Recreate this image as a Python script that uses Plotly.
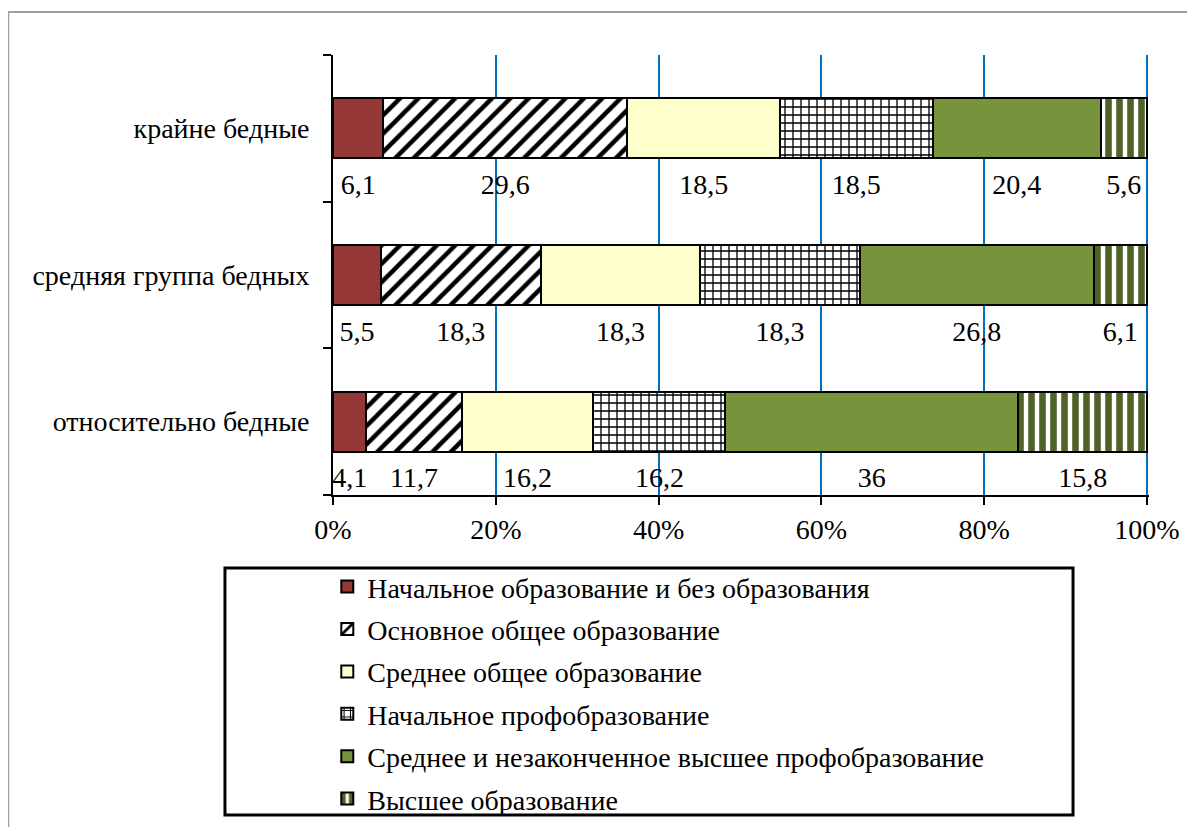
import plotly.graph_objects as go

categories = ["относительно бедные", "средняя группа бедных", "крайне бедные"]
series_names = [
    "Начальное образование и без образования",
    "Основное общее образование",
    "Среднее общее образование",
    "Начальное профобразование",
    "Среднее и незаконченное высшее профобразование",
    "Высшее образование",
]
# values per series, ordered as categories (bottom -> top)
s_primary = [4.1, 5.5, 6.1]
s_basic = [11.7, 18.3, 29.6]
s_secondary = [16.2, 18.3, 18.5]
s_voc_primary = [16.2, 18.3, 18.5]
s_voc_secondary = [36, 26.8, 20.4]
s_higher = [15.8, 6.1, 5.6]
series_values = [s_primary, s_basic, s_secondary, s_voc_primary, s_voc_secondary, s_higher]
x_ticks = [0, 20, 40, 60, 80, 100]
x_tick_labels = ["0%", "20%", "40%", "60%", "80%", "100%"]

styles = [
    dict(color="#953735", pattern=dict(shape="")),
    dict(color="white", pattern=dict(shape="/", fgcolor="black", bgcolor="white", size=13, solidity=0.35, fillmode="replace")),
    dict(color="#FFFFCC", pattern=dict(shape="")),
    dict(color="white", pattern=dict(shape="+", fgcolor="black", bgcolor="white", size=8, solidity=0.3, fillmode="replace")),
    dict(color="#77933C", pattern=dict(shape="")),
    dict(color="white", pattern=dict(shape="|", fgcolor="#4F6228", bgcolor="white", size=11, solidity=0.6, fillmode="replace")),
]

FONT = "Liberation Serif, Times New Roman, serif"
FS = 28
ypos = list(range(len(categories)))

fig = go.Figure()
for i, (name, vals) in enumerate(zip(series_names, series_values)):
    st = styles[i]
    fig.add_trace(go.Bar(
        name=name, y=ypos, x=vals, orientation="h",
        legendgroup=f"g{i}",
        marker=dict(color=st["color"], pattern=st["pattern"], line=dict(color="black", width=2)),
        hoverinfo="skip",
    ))

# data labels below each segment
lx, ly, lt = [], [], []
for c in range(len(categories)):
    total = sum(s[c] for s in series_values)
    cum = 0
    for s in series_values:
        v = s[c]
        lx.append((cum + v / 2) / total * 100)
        ly.append(c - 0.4)
        lt.append(("%g" % v).replace(".", ","))
        cum += v
fig.add_trace(go.Scatter(x=lx, y=ly, text=lt, mode="text", showlegend=False,
                         textfont=dict(family=FONT, size=FS, color="black"),
                         textposition="middle center", hoverinfo="skip", cliponaxis=False))

fig.update_layout(
    width=1187, height=819,
    margin=dict(l=325, r=46, t=47, b=332, autoexpand=False),
    barmode="stack", barnorm="percent", bargap=0.59,
    plot_bgcolor="white", paper_bgcolor="white",
    font=dict(family=FONT, size=FS, color="black"),
    xaxis=dict(range=[0, 100.25], tickvals=x_ticks, ticktext=x_tick_labels,
               showgrid=True, gridcolor="#0070C0", gridwidth=2,
               showline=True, linecolor="black", linewidth=2,
               ticks="outside", ticklen=8, tickwidth=2, tickcolor="black",
               zeroline=False, tickfont=dict(family=FONT, size=FS, color="black")),
    yaxis=dict(range=[-0.5, 2.5], tickvals=ypos, ticktext=categories,
               showgrid=False, zeroline=False, ticks="",
               showline=True, linecolor="black", linewidth=2,
               ticklabelstandoff=16,
               minor=dict(tickvals=[-0.5, 0.5, 1.5, 2.5], ticks="outside", ticklen=8,
                          tickwidth=2, tickcolor="black", showgrid=False),
               tickfont=dict(family=FONT, size=FS, color="black")),
    legend=dict(x=-0.007, xanchor="left", y=-0.152, yanchor="top",
                traceorder="grouped", tracegroupgap=3,
                bgcolor="rgba(0,0,0,0)", borderwidth=0,
                font=dict(family=FONT, size=FS, color="black")),
    showlegend=True,
    shapes=[
        dict(type="rect", xref="paper", yref="paper", x0=-0.398, x1=1.050, y0=-0.77, y1=1.0977,
             line=dict(color="#A0A0A0", width=2), layer="below"),
        dict(type="rect", xref="paper", yref="paper", x0=-0.1324, x1=0.9069, y0=-0.727, y1=-0.166,
             line=dict(color="black", width=3), layer="above"),
    ],
)

fig.write_html("out.html")
